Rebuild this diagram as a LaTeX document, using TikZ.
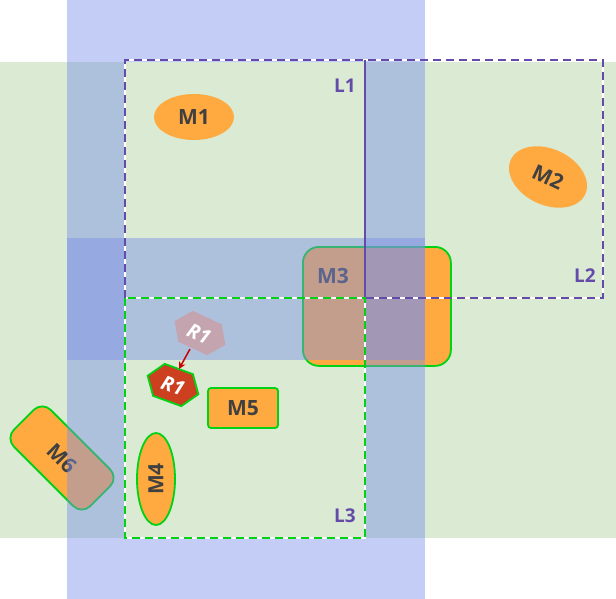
\documentclass[tikz,border=0pt]{standalone}
\usepackage{fontspec}
\setmainfont{Open Sans}
\usetikzlibrary{shapes.geometric,arrows.meta}
\definecolor{bg}{RGB}{218,234,211}
\definecolor{bl}{RGB}{122,144,233}
\definecolor{org}{RGB}{255,170,64}
\definecolor{gb}{RGB}{0,210,20}
\definecolor{pl}{RGB}{100,75,170}
\definecolor{tx}{RGB}{64,64,64}
\tikzset{
 blue/.style={fill=bl,fill opacity=0.45},
 mach/.style={fill=org,font=\bfseries\fontsize{21}{21}\selectfont,text=tx},
 gbord/.style={draw=gb,line width=1.8pt},
 lab/.style={text=pl,font=\bfseries\fontsize{19}{19}\selectfont},
 pd/.style={draw=pl,line width=1.3pt,dash pattern=on 8pt off 5pt},
 gd/.style={draw=gb,line width=1.6pt,dash pattern=on 8pt off 5pt},
 wl/.style={draw=white,line width=1.8pt}
}
\begin{document}
\begin{tikzpicture}[x=1pt,y=-1pt]
\useasboundingbox (0,0) rectangle (616,599);
\fill[bg] (0,62) rectangle (616,538);
\node[mach,gbord,rounded corners=16pt,minimum width=148pt,minimum height=119pt,anchor=north west,inner sep=0] (m3) at (302,246) {};
\node[tx,font=\bfseries\fontsize{21}{21}\selectfont] (m3t) at (333,276) {M3};
\node[mach,gbord,rounded corners=12pt,minimum width=108pt,minimum height=52pt,rotate=-45] (m6) at (62,458) {M6};
\fill[blue] (67,0) rectangle (425,62);
\fill[blue] (67,538) rectangle (425,599);
\fill[blue] (67,62) rectangle (125,538);
\fill[blue] (365,62) rectangle (425,538);
\fill[blue] (67,238) rectangle (425,360);
\draw[wl] (125,60) rectangle (603,298);
\draw[wl] (125,298) rectangle (365,538);
\draw[pd] (125,298) -- (125,60) -- (603,60) -- (603,298) -- (365,298);
\draw[pl,line width=1.3pt] (365,60) -- (365,298);
\draw[gd] (125,298) rectangle (365,538);
\node[lab] (l1) at (345,86) {L1};
\node[lab] (l2) at (585,276) {L2};
\node[lab] (l3) at (345,516) {L3};
\node[mach,ellipse,minimum width=80pt,minimum height=46pt,inner sep=0] (m1) at (194,117) {M1};
\node[mach,ellipse,minimum width=82pt,minimum height=56pt,inner sep=0,rotate=-25] (m2) at (548,177) {M2};
\node[mach,gbord,ellipse,minimum width=92pt,minimum height=38pt,inner sep=0,rotate=90] (m4) at (156,479) {M4};
\node[mach,gbord,rounded corners=3pt,minimum width=70pt,minimum height=40pt,inner sep=0] (m5) at (243,408) {M5};
\begin{scope}[shift={(200,333)},rotate=-25]
\fill[fill={rgb,255:red,196;green,164;blue,174}] (-28,0)--(-16,-17)--(16,-17)--(28,0)--(16,17)--(-16,17)--cycle;
\end{scope}
\node[text=white,font=\bfseries\itshape\fontsize{20}{20}\selectfont,rotate=-25] (r1g) at (199,334) {R1};
\begin{scope}[shift={(173,385)},rotate=-20]
\filldraw[fill={rgb,255:red,204;green,64;blue,32},gbord] (-27,0)--(-15,-17)--(15,-17)--(27,0)--(15,17)--(-15,17)--cycle;
\end{scope}
\node[text=white,font=\bfseries\itshape\fontsize{20}{20}\selectfont,rotate=-20] (r1) at (173,386) {R1};
\draw[-{Stealth[length=7pt,width=7pt]},red!80!black,line width=1.5pt] (190,349) -- (179,369);
\end{tikzpicture}
\end{document}
